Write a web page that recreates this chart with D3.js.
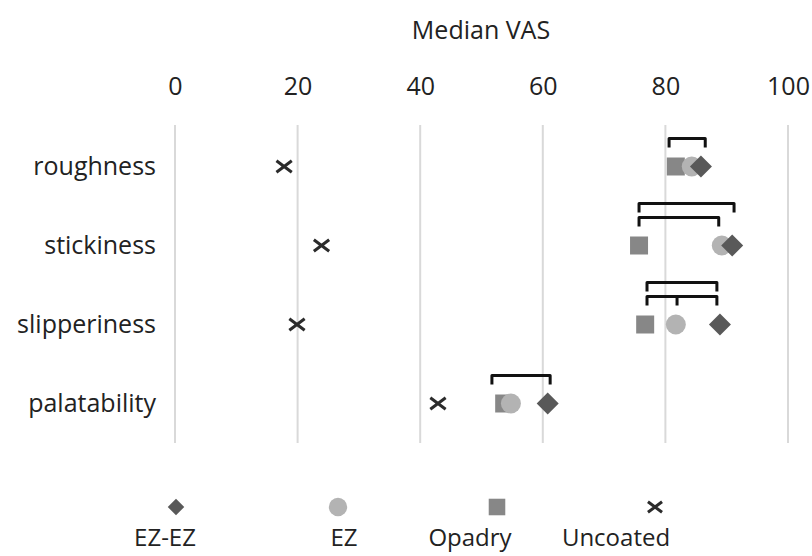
<!DOCTYPE html>
<html>
<head>
<meta charset="utf-8">
<script src="https://cdn.jsdelivr.net/npm/d3@7"></script>
<style>
  body { margin: 0; background: #fff; }
  text { font-family: "Open Sans", sans-serif; fill: #222; }
</style>
</head>
<body>
<div id="chart"></div>
<script>
// values (median VAS, 0-100)
const categories = ["roughness", "stickiness", "slipperiness", "palatability"];
const ezez     = [85.8, 90.9, 88.9, 60.8];
const ez       = [84.3, 89.2, 81.7, 54.8];
const opadry   = [81.7, 75.7, 76.7, 53.7];
const uncoated = [17.8, 23.9, 19.9, 42.9];
const xTicks = [0, 20, 40, 60, 80, 100];

// significance brackets: row, leg positions (in VAS units), stacking level
const brackets = [
  {row: "roughness",    legs: [80.6, 86.5],       level: 0},
  {row: "stickiness",   legs: [75.7, 91.2],       level: 1},
  {row: "stickiness",   legs: [75.7, 88.7],       level: 0},
  {row: "slipperiness", legs: [77.0, 88.4],       level: 1},
  {row: "slipperiness", legs: [77.0, 81.9, 88.4], level: 0},
  {row: "palatability", legs: [51.7, 61.2],       level: 0}
];

const series = [
  {name: "EZ-EZ",    values: ezez,     shape: "diamond", color: "#595959"},
  {name: "EZ",       values: ez,       shape: "circle",  color: "#b3b3b3"},
  {name: "Opadry",   values: opadry,   shape: "square",  color: "#878787"},
  {name: "Uncoated", values: uncoated, shape: "cross",   color: "#2b2b2b"}
];

const width = 812, height = 556;
const svg = d3.select("#chart").append("svg")
  .attr("width", width).attr("height", height);

const x = d3.scaleLinear().domain([0, 100]).range([175, 788]);
const y = d3.scaleBand().domain(categories).range([127, 443]);

// title + tick labels on top
svg.append("text")
  .attr("x", 481).attr("y", 39)
  .attr("text-anchor", "middle")
  .style("font-size", "25px")
  .text("Median VAS");

const xAxis = svg.append("g")
  .attr("transform", "translate(0,125)")
  .call(d3.axisTop(x).tickValues(xTicks).tickSize(0).tickPadding(30));
xAxis.select(".domain").remove();
xAxis.selectAll("text")
  .style("font-family", "'Open Sans', sans-serif")
  .style("font-size", "25px").attr("fill", "#222");

// vertical gridlines
svg.append("g").selectAll("line")
  .data(xTicks).join("line")
  .attr("x1", d => x(d)).attr("x2", d => x(d))
  .attr("y1", 125).attr("y2", 443)
  .attr("stroke", "#d9d9d9").attr("stroke-width", 2);

// category labels
const yAxis = svg.append("g")
  .attr("transform", "translate(156,0)")
  .call(d3.axisLeft(y).tickSize(0).tickPadding(0));
yAxis.select(".domain").remove();
yAxis.selectAll("text")
  .style("font-family", "'Open Sans', sans-serif")
  .style("font-size", "25px").attr("fill", "#222");

function drawMarker(g, shape, color, cx, cy, s) {
  if (shape === "diamond") {
    g.append("path")
      .attr("d", `M${cx},${cy - s}L${cx + s},${cy}L${cx},${cy + s}L${cx - s},${cy}Z`)
      .attr("fill", color);
  } else if (shape === "circle") {
    g.append("circle").attr("cx", cx).attr("cy", cy).attr("r", s).attr("fill", color);
  } else if (shape === "square") {
    g.append("rect").attr("x", cx - s).attr("y", cy - s)
      .attr("width", 2 * s).attr("height", 2 * s).attr("fill", color);
  } else {
    const a = s * 0.85;
    g.append("path")
      .attr("d", `M${cx - a},${cy - a * 0.75}L${cx + a},${cy + a * 0.75}M${cx - a},${cy + a * 0.75}L${cx + a},${cy - a * 0.75}M${cx - a * 0.2},${cy}L${cx + a * 0.2},${cy}`)
      .attr("stroke", color).attr("stroke-width", 3).attr("fill", "none");
  }
}

const sizes = {diamond: 11, circle: 10, square: 9, cross: 9};

// draw in order: Uncoated, Opadry, EZ, EZ-EZ (EZ-EZ on top)
const marks = svg.append("g");
series.slice().reverse().forEach(s => {
  categories.forEach((c, i) => {
    drawMarker(marks, s.shape, s.color, x(s.values[i]), y(c) + y.bandwidth() / 2, sizes[s.shape]);
  });
});

// brackets
const levelTop = [28, 42];
const legLen = 9;
svg.append("g").selectAll("path")
  .data(brackets).join("path")
  .attr("d", b => {
    const cy = y(b.row) + y.bandwidth() / 2;
    const top = cy - levelTop[b.level];
    const xs = b.legs.map(x);
    let d = `M${xs[0]},${top + legLen}L${xs[0]},${top}L${xs[xs.length - 1]},${top}L${xs[xs.length - 1]},${top + legLen}`;
    xs.slice(1, -1).forEach(px => { d += `M${px},${top}L${px},${top + legLen}`; });
    return d;
  })
  .attr("fill", "none").attr("stroke", "#111").attr("stroke-width", 3)
  .attr("stroke-linejoin", "round");

// legend
const legendMarkX = [176, 338, 497, 655];
const legendTextX = [165, 344, 470, 616];
const legend = svg.append("g");
series.forEach((s, i) => {
  drawMarker(legend, s.shape, s.color, legendMarkX[i], 507, sizes[s.shape] * (s.shape === "diamond" ? 0.75 : 0.92));
  legend.append("text")
    .attr("x", legendTextX[i]).attr("y", 546)
    .attr("text-anchor", "middle")
    .style("font-size", "24px")
    .text(s.name);
});
</script>
</body>
</html>
